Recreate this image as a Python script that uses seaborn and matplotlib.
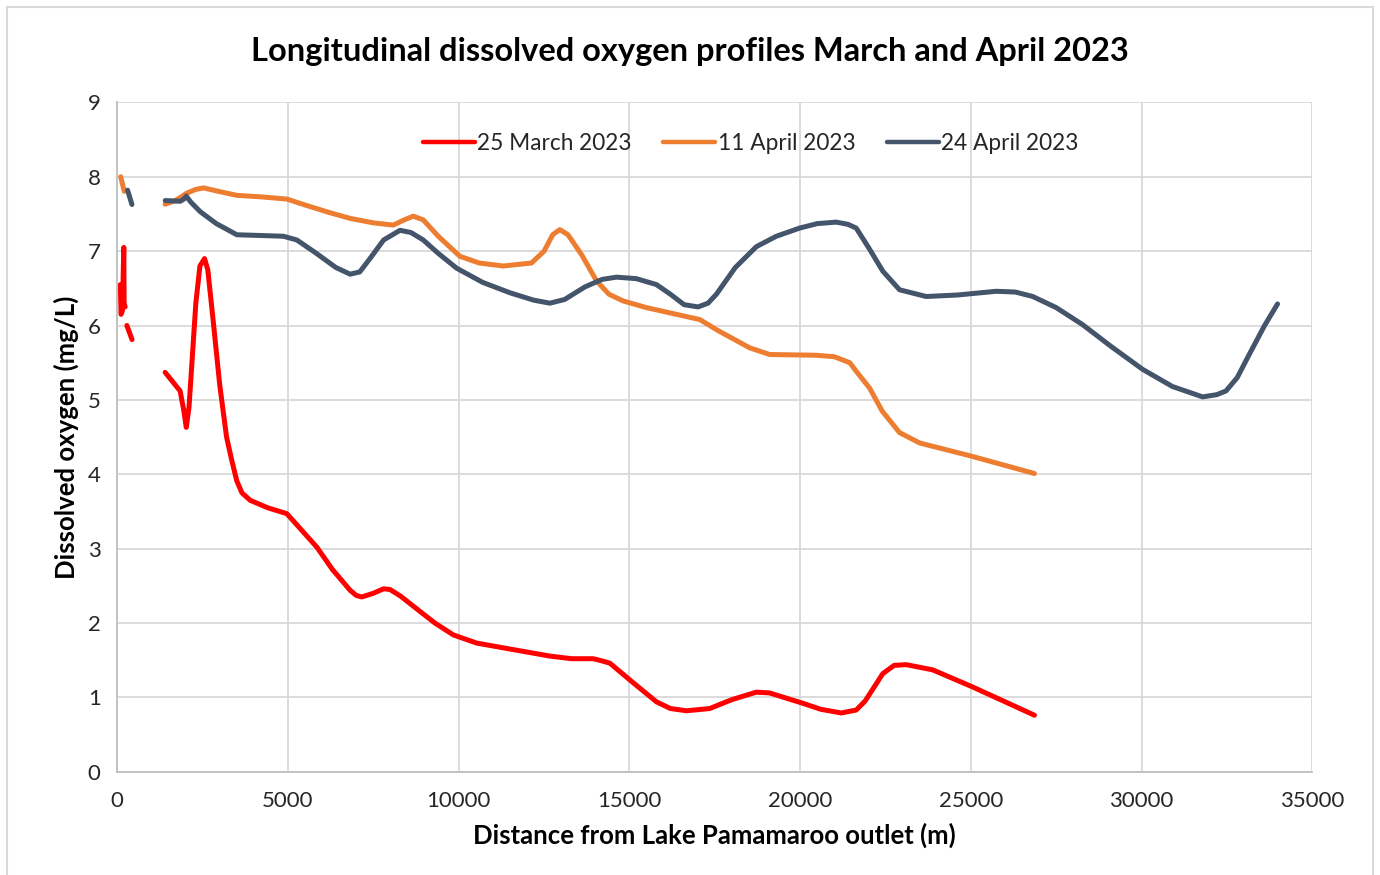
import numpy as np
import pandas as pd
import matplotlib
matplotlib.use("Agg")
import matplotlib.pyplot as plt
import seaborn as sns
from matplotlib.lines import Line2D

sns.set_theme(style="whitegrid")
plt.rcParams["font.family"] = ["Lato", "DejaVu Sans"]

# ------------------------------------------------------------
# data
# ------------------------------------------------------------
SERIES = ["25 March 2023", "11 April 2023", "24 April 2023"]
COLORS = ["#FF0000", "#ED7D31", "#44546A"]

# readings close to the outlet (short pieces before the gap)
mar_near_x = [90, 110, 150, 190, 200, 230]
mar_near_y = [6.55, 6.15, 6.20, 7.05, 6.30, 6.25]
mar_dash_x = [280, 480]
mar_dash_y = [6.00, 5.75]
apr11_dash_x = [100, 300]
apr11_dash_y = [8.00, 7.62]
apr24_dash_x = [300, 460]
apr24_dash_y = [7.82, 7.58]

# main profiles
mar_x = [1400, 1840, 1950, 2020, 2100, 2200, 2300, 2420, 2555, 2650, 2800, 3000, 3200,
         3356, 3500, 3650, 3890, 4400, 4965, 5200, 5843, 6300, 6818, 7000, 7160, 7500,
         7800, 7990, 8300, 8770, 9300, 9840, 10525, 11500, 12670, 13300, 13936, 14200,
         14425, 15100, 15790, 16200, 16670, 17350, 18000, 18716, 19100, 20080, 20600,
         21205, 21640, 21900, 22420, 22750, 23105, 23880, 25050, 26860]
mar_y = [5.37, 5.12, 4.85, 4.63, 4.90, 5.60, 6.30, 6.80, 6.90, 6.75, 6.10, 5.20, 4.50,
         4.18, 3.91, 3.75, 3.65, 3.55, 3.47, 3.35, 3.02, 2.72, 2.44, 2.37, 2.35, 2.40,
         2.46, 2.45, 2.36, 2.19, 2.00, 1.84, 1.73, 1.65, 1.555, 1.52, 1.52, 1.49,
         1.46, 1.20, 0.94, 0.85, 0.82, 0.85, 0.97, 1.07, 1.06, 0.92, 0.84,
         0.79, 0.83, 0.95, 1.32, 1.43, 1.44, 1.37, 1.14, 0.76]

apr11_x = [1400, 1700, 2040, 2300, 2525, 3000, 3500, 4200, 4965, 5500, 6200, 6818, 7500,
           8085, 8400, 8670, 8960, 9400, 10035, 10600, 11300, 12130, 12500, 12750, 12960,
           13200, 13600, 14035, 14400, 14815, 15500, 16375, 17060, 17600, 18520, 19105,
           20470, 21000, 21450, 21700, 22030, 22400, 22910, 23500, 24960, 26860]
apr11_y = [7.63, 7.68, 7.78, 7.83, 7.85, 7.80, 7.75, 7.73, 7.70, 7.62, 7.52, 7.44, 7.38,
           7.35, 7.42, 7.47, 7.42, 7.20, 6.93, 6.84, 6.80, 6.84, 7.00, 7.22, 7.29,
           7.22, 6.95, 6.60, 6.42, 6.33, 6.24, 6.15, 6.08, 5.93, 5.70, 5.61,
           5.60, 5.58, 5.50, 5.35, 5.16, 4.85, 4.56, 4.42, 4.25, 4.01]

apr24_x = [1404, 1843, 1950, 2020, 2150, 2430, 2900, 3500, 4200, 4866, 5258, 5800, 6400,
           6818, 7100, 7400, 7800, 8280, 8600, 8960, 9400, 9940, 10700, 11500, 12200,
           12670, 13100, 13700, 14200, 14620, 15200, 15790, 16200, 16600, 17010, 17300,
           17545, 18100, 18716, 19300, 19985, 20500, 21058, 21400, 21640, 22000, 22420,
           22910, 23690, 24600, 25740, 26300, 26810, 27500, 28275, 29100, 30030, 30900,
           31785, 32200, 32470, 32800, 33150, 33600, 33980]
apr24_y = [7.68, 7.67, 7.70, 7.74, 7.66, 7.53, 7.37, 7.22, 7.21, 7.20, 7.15, 6.98, 6.78,
           6.69, 6.72, 6.90, 7.15, 7.28, 7.25, 7.15, 6.97, 6.77, 6.58, 6.44, 6.34,
           6.30, 6.35, 6.52, 6.62, 6.65, 6.63, 6.55, 6.42, 6.28, 6.25, 6.30,
           6.42, 6.78, 7.06, 7.20, 7.31, 7.37, 7.39, 7.36, 7.31, 7.05, 6.73,
           6.48, 6.39, 6.41, 6.46, 6.45, 6.39, 6.24, 6.01, 5.72, 5.41, 5.18,
           5.04, 5.07, 5.12, 5.30, 5.61, 6.00, 6.29]

main = pd.concat([
    pd.DataFrame({"distance": mar_x, "do": mar_y, "date": SERIES[0]}),
    pd.DataFrame({"distance": apr11_x, "do": apr11_y, "date": SERIES[1]}),
    pd.DataFrame({"distance": apr24_x, "do": apr24_y, "date": SERIES[2]}),
], ignore_index=True)

# ------------------------------------------------------------
# plot
# ------------------------------------------------------------
fig, ax = plt.subplots(figsize=(13.8, 8.75), dpi=100)
fig.subplots_adjust(left=0.085, right=0.951, bottom=0.118, top=0.883)

sns.lineplot(data=main, x="distance", y="do", hue="date", palette=COLORS,
             hue_order=SERIES, sort=False, linewidth=3.6, ax=ax, legend=False,
             solid_capstyle="round", solid_joinstyle="round")

ax.plot(mar_near_x, mar_near_y, color=COLORS[0], lw=3.6, solid_capstyle="round")
for xs, ys, c in [(mar_dash_x, mar_dash_y, COLORS[0]),
                  (apr11_dash_x, apr11_dash_y, COLORS[1]),
                  (apr24_dash_x, apr24_dash_y, COLORS[2])]:
    ax.plot(xs, ys, color=c, lw=3.6, linestyle=(0, (3, 3)), dash_capstyle="round")

ax.set_xlim(0, 35000)
ax.set_ylim(0, 9)
ax.set_xticks(np.arange(0, 35001, 5000))
ax.set_yticks(np.arange(0, 10, 1))
ax.grid(True, color="#D9D9D9", linewidth=1.3)
for s in ax.spines.values():
    s.set_visible(False)
for side in ["left", "bottom"]:
    ax.spines[side].set_visible(True)
    ax.spines[side].set_color("#BFBFBF")
    ax.spines[side].set_linewidth(1.3)
ax.tick_params(axis="both", length=0, labelsize=16, labelcolor="#262626")
ax.tick_params(axis="x", pad=14)
ax.tick_params(axis="y", pad=12)

ax.set_xlabel("Distance from Lake Pamamaroo outlet (m)", fontsize=18.5, fontweight="bold",
              color="black", labelpad=8)
ax.set_ylabel("Dissolved oxygen (mg/L)", fontsize=18.5, fontweight="bold",
              color="black", labelpad=6)
fig.suptitle("Longitudinal dissolved oxygen profiles March and April 2023",
             fontsize=23.5, fontweight="bold", color="black", y=0.958)

handles = [Line2D([0], [0], color=c, lw=3.2, solid_capstyle="round") for c in COLORS]
ax.legend(handles, SERIES, loc="upper center", bbox_to_anchor=(0.53, 0.985), ncol=3,
          frameon=False, fontsize=16.3, handlelength=2.3, handletextpad=0.1,
          columnspacing=1.4)

# chart-area border
for xs, ys in [([0.005, 0.995], [0.992, 0.992]), ([0.005, 0.005], [0.0, 0.992]),
               ([0.995, 0.995], [0.0, 0.992])]:
    fig.add_artist(Line2D(xs, ys, transform=fig.transFigure, color="#D9D9D9", lw=1.5))

fig.savefig("out.png", dpi=100)
